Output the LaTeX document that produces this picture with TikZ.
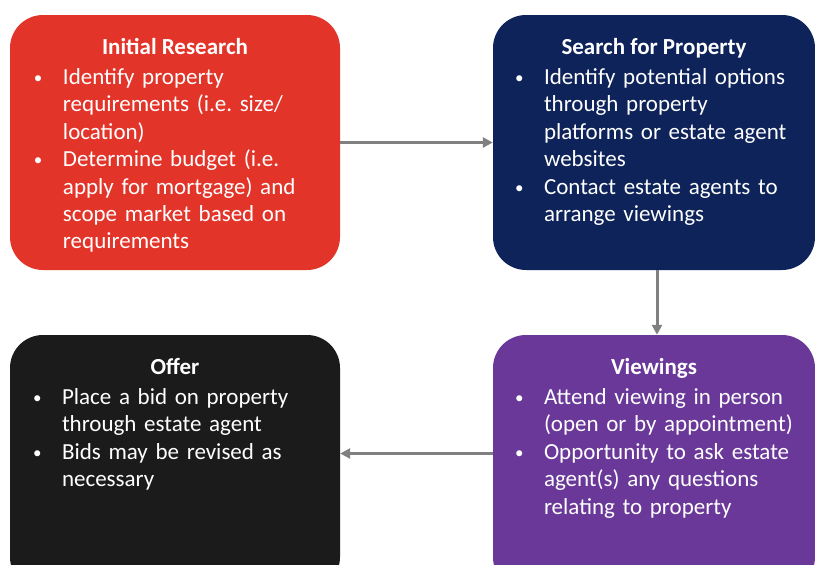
\documentclass[tikz,border=0pt]{standalone}
\usepackage{fontspec}
\setmainfont{Carlito}
\usepackage{enumitem}
\usetikzlibrary{positioning}
\usetikzlibrary{arrows.meta}
\frenchspacing
\definecolor{researchRed}{HTML}{E3342A}
\definecolor{searchNavy}{HTML}{0D2359}
\definecolor{viewPurple}{HTML}{6A3899}
\definecolor{offerBlack}{HTML}{1B1B1B}
\definecolor{arrowGray}{HTML}{808080}
\newenvironment{stagelist}{\begin{itemize}[label={\raisebox{1pt}{\fontsize{17}{17}\selectfont\textbullet}},leftmargin=29pt,labelwidth=15pt,labelsep=14pt,align=left,topsep=0pt,itemsep=0pt,parsep=0pt,partopsep=0pt]}{\end{itemize}}
\tikzset{stageBox/.style={rounded corners=33pt, minimum width=330pt, minimum height=255pt, inner sep=0pt}}
\tikzset{stageTitle/.style={text=white, anchor=base, inner sep=0pt, font=\bfseries\fontsize{23}{27.4}\selectfont}}
\tikzset{stageText/.style={text=white, anchor=north west, inner sep=0pt, text width=300pt, align=left, font=\fontsize{23}{27.4}\selectfont\frenchspacing}}
\tikzset{flowArrow/.style={draw=arrowGray, line width=3pt, -{Triangle[length=10pt,width=10pt]}}}

\begin{document}
\begin{tikzpicture}[x=1pt, y=-1pt]

\useasboundingbox (0,0) rectangle (815,565);

\node[stageBox, fill=researchRed] (research) at (175, 142.5) {};
\node[stageBox, fill=searchNavy, minimum width=322pt] (search) at (654, 142.5) {};
\node[stageBox, fill=offerBlack] (offer) at (175, 462.5) {};
\node[stageBox, fill=viewPurple, minimum width=322pt] (viewings) at (654, 462.5) {};

\node[stageTitle] (researchTitle) at ([yshift=-39.5pt]research.north) {Initial Research};
\node[stageText] (researchText) at ([xshift=24pt,yshift=-42pt]research.north west) {
\begin{stagelist}
\item\strut Identify property\\ requirements (i.e. size/\\ location)
\item Determine budget (i.e.\\ apply for mortgage) and\\ scope market based on\\ requirements
\end{stagelist}};

\node[stageTitle] (searchTitle) at ([yshift=-39.5pt]search.north) {Search for Property};
\node[stageText] (searchText) at ([xshift=22pt,yshift=-42pt]search.north west) {
\begin{stagelist}
\item\strut Identify potential options\\ through property\\ platforms or estate agent\\ websites
\item Contact estate agents to\\ arrange viewings
\end{stagelist}};

\node[stageTitle] (offerTitle) at ([yshift=-39.5pt]offer.north) {Offer};
\node[stageText] (offerText) at ([xshift=23pt,yshift=-42pt]offer.north west) {
\begin{stagelist}
\item\strut Place a bid on property\\ through estate agent
\item Bids may be revised as\\ necessary
\end{stagelist}};

\node[stageTitle] (viewingsTitle) at ([yshift=-39.5pt]viewings.north) {Viewings};
\node[stageText] (viewingsText) at ([xshift=22pt,yshift=-42pt]viewings.north west) {
\begin{stagelist}
\item\strut Attend viewing in person\\ (open or by appointment)
\item Opportunity to ask estate\\ agent(s) any questions\\ relating to property
\end{stagelist}};

\draw[flowArrow] (research) -- (search);
\draw[flowArrow] ([xshift=3pt]search.south) -- ([xshift=3pt]viewings.north);
\draw[flowArrow] ([yshift=9pt]viewings.west) -- ([yshift=9pt]offer.east);

\end{tikzpicture}
\end{document}
